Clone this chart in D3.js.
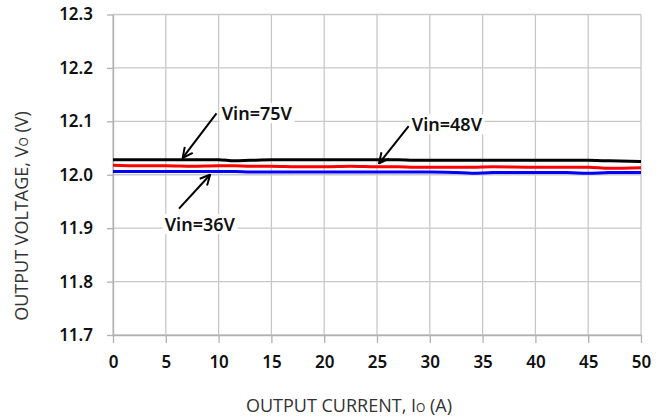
<!DOCTYPE html>
<html><head><meta charset="utf-8">
<script src="https://cdn.jsdelivr.net/npm/d3@7"></script>
<style>
html,body{margin:0;padding:0;background:#fff;}
svg{display:block;}
</style></head>
<body>
<svg id="chart" width="668" height="419"></svg>
<script>
// ---- data ----
const currents   = [0, 2.5, 5, 7.5, 10, 11.5, 13, 15, 17.5, 20, 22.5, 25, 27, 28.5, 30, 32.5, 34, 36, 40, 43, 45, 47, 50];
const vin75      = [12.028,12.028,12.028,12.028,12.028,12.026,12.027,12.028,12.028,12.028,12.028,12.028,12.028,12.027,12.027,12.027,12.027,12.027,12.027,12.027,12.027,12.026,12.025];
const vin48      = [12.018,12.017,12.017,12.016,12.017,12.017,12.016,12.016,12.015,12.015,12.016,12.015,12.015,12.014,12.014,12.014,12.014,12.015,12.014,12.014,12.014,12.012,12.013];
const vin36      = [12.006,12.006,12.006,12.006,12.006,12.006,12.005,12.005,12.005,12.005,12.005,12.005,12.005,12.005,12.005,12.004,12.003,12.004,12.004,12.004,12.003,12.004,12.004];
const seriesNames  = ["Vin=75V", "Vin=48V", "Vin=36V"];
const seriesColors = ["#000000", "#ff0000", "#0000ff"];
const xTicks = [0,5,10,15,20,25,30,35,40,45,50];
const yTicks = [11.7,11.8,11.9,12.0,12.1,12.2,12.3];
// annotations: label text, label anchor (x,y data), arrow start, arrow tip (data)
const annLabels = ["Vin=75V", "Vin=48V", "Vin=36V"];
const annTextX  = [10.3, 28.3, 4.9];
const annTextY  = [12.1155, 12.0945, 11.9080];
const annFromX  = [9.8, 28.0, 6.25];
const annFromY  = [12.1150, 12.0910, 11.9365];
const annToX    = [6.6, 25.2, 9.2];
const annToY    = [12.0315, 12.0215, 12.0000];

// ---- layout ----
const svg = d3.select("#chart");
const L = 113, R = 641, T = 14.5, B = 335;
const x = d3.scaleLinear().domain([0,50]).range([L,R]);
const y = d3.scaleLinear().domain([11.7,12.3]).range([B,T]);
const gridColor = "#c8c8c8";

// grid
svg.append("g").selectAll("line.vg").data(xTicks).join("line")
  .attr("x1", d=>x(d)).attr("x2", d=>x(d)).attr("y1", T).attr("y2", B)
  .attr("stroke", gridColor).attr("stroke-width", 1.3);
svg.append("g").selectAll("line.hg").data(yTicks).join("line")
  .attr("x1", L).attr("x2", R).attr("y1", d=>y(d)).attr("y2", d=>y(d))
  .attr("stroke", gridColor).attr("stroke-width", 1.3);

// axes
const xAxis = d3.axisBottom(x).tickValues(xTicks).tickSize(8).tickSizeOuter(0).tickPadding(13).tickFormat(d3.format("d"));
const yAxis = d3.axisLeft(y).tickValues(yTicks).tickSize(6).tickSizeOuter(0).tickPadding(14).tickFormat(d3.format(".1f"));
const gx = svg.append("g").attr("transform", `translate(0,${B})`).call(xAxis);
const gy = svg.append("g").attr("transform", `translate(${L},0)`).call(yAxis);
[gx, gy].forEach(g => {
  g.select(".domain").attr("stroke", "#b0b0b0").attr("stroke-width", 1.3);
  g.selectAll(".tick line").attr("stroke", "#b0b0b0").attr("stroke-width", 1.3);
  g.selectAll(".tick text").attr("fill", "#111").style("font-family", "'Noto Sans', sans-serif")
    .style("font-weight", "600").style("font-size", "17px");
});

// axis titles
const xt = svg.append("text").attr("x", 349).attr("y", 412).attr("text-anchor", "middle")
  .style("font-family", "'Open Sans', sans-serif").style("font-size", "18px").attr("fill", "#333");
xt.append("tspan").text("OUTPUT CURRENT, I");
xt.append("tspan").text("O").style("font-size", "12px");
xt.append("tspan").text(" (A)");
const yt = svg.append("text").attr("transform", "translate(28,216) rotate(-90)").attr("text-anchor", "middle")
  .style("font-family", "'Open Sans', sans-serif").style("font-size", "18px").attr("fill", "#333");
yt.append("tspan").text("OUTPUT VOLTAGE, V");
yt.append("tspan").text("O").style("font-size", "12px");
yt.append("tspan").text(" (V)");

// lines
const allSeries = [vin75, vin48, vin36];
const line = d3.line().x((d,i)=>x(currents[i])).y(d=>y(d)).curve(d3.curveMonotoneX);
// draw in order blue, red, black
[2,1,0].forEach(k => {
  svg.append("path").datum(allSeries[k]).attr("d", line)
    .attr("fill", "none").attr("stroke", seriesColors[k]).attr("stroke-width", 3);
});

// arrow marker
svg.append("defs").append("marker").attr("id", "arr")
  .attr("viewBox", "0 0 12 12").attr("refX", 11).attr("refY", 6)
  .attr("markerWidth", 12).attr("markerHeight", 12).attr("markerUnits", "userSpaceOnUse")
  .attr("orient", "auto")
  .append("path").attr("d", "M1,1 L11,6 L1,11").attr("fill", "none").attr("stroke", "#000").attr("stroke-width", 2);

annLabels.forEach((lab, i) => {
  const g = svg.append("g");
  const t = g.append("text").attr("x", x(annTextX[i])).attr("y", y(annTextY[i]))
    .attr("dominant-baseline", "central")
    .style("font-family", "'Noto Sans', sans-serif").style("font-weight", "600").style("font-size", "18px")
    .attr("fill", "#111").text(lab);
  const bb = t.node().getBBox();
  g.insert("rect", "text").attr("x", bb.x - 2).attr("y", bb.y + 2).attr("width", bb.width + 4).attr("height", bb.height - 4)
    .attr("fill", "#fff");
  svg.append("line").attr("x1", x(annFromX[i])).attr("y1", y(annFromY[i]))
    .attr("x2", x(annToX[i])).attr("y2", y(annToY[i]))
    .attr("stroke", "#000").attr("stroke-width", 2).attr("marker-end", "url(#arr)");
});
</script>
</body></html>
